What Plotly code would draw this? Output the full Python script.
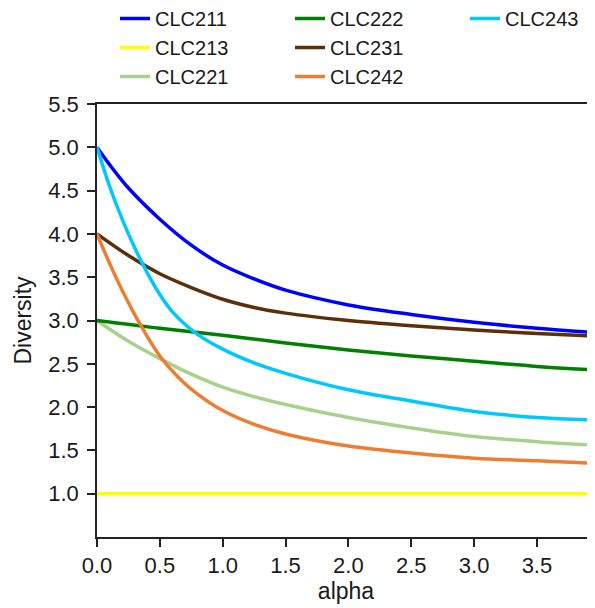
import plotly.graph_objects as go

# alpha sample points
alpha_211 = [0.0, 0.1, 0.25, 0.5, 0.75, 1.0, 1.25, 1.5, 2.0, 2.5, 3.0, 3.5, 3.96]
div_211 = [5.0, 4.80, 4.53, 4.17, 3.87, 3.64, 3.48, 3.35, 3.18, 3.07, 2.98, 2.91, 2.86]

alpha_213 = [0.0, 3.96]
div_213 = [1.0, 1.0]

alpha_221 = [0.0, 0.25, 0.5, 0.75, 1.0, 1.25, 1.5, 2.0, 2.5, 3.0, 3.5, 3.96]
div_221 = [3.0, 2.76, 2.56, 2.38, 2.23, 2.12, 2.03, 1.88, 1.76, 1.66, 1.60, 1.56]

alpha_222 = [0.0, 0.5, 1.0, 1.5, 2.0, 2.5, 3.0, 3.5, 3.96]
div_222 = [3.0, 2.91, 2.83, 2.74, 2.66, 2.59, 2.53, 2.47, 2.43]

alpha_231 = [0.0, 0.25, 0.5, 0.75, 1.0, 1.25, 1.5, 2.0, 2.5, 3.0, 3.5, 3.96]
div_231 = [4.0, 3.75, 3.54, 3.38, 3.245, 3.15, 3.085, 3.00, 2.94, 2.89, 2.85, 2.82]

alpha_242 = [0.0, 0.1, 0.2, 0.33, 0.5, 0.65, 0.8, 1.0, 1.25, 1.5, 2.0, 2.5, 3.0, 3.5, 3.96]
div_242 = [4.0, 3.66, 3.35, 2.99, 2.59, 2.34, 2.15, 1.96, 1.80, 1.69, 1.55, 1.47, 1.41, 1.38, 1.35]

alpha_243 = [0.0, 0.1, 0.2, 0.3, 0.4, 0.5, 0.6, 0.8, 1.0, 1.25, 1.5, 2.0, 2.5, 3.0, 3.5, 3.96]
div_243 = [5.0, 4.55, 4.17, 3.84, 3.55, 3.30, 3.10, 2.84, 2.67, 2.51, 2.39, 2.20, 2.07, 1.95, 1.88, 1.85]

names = ["CLC211", "CLC213", "CLC221", "CLC222", "CLC231", "CLC242", "CLC243"]
xs = [alpha_211, alpha_213, alpha_221, alpha_222, alpha_231, alpha_242, alpha_243]
ys = [div_211, div_213, div_221, div_222, div_231, div_242, div_243]
colors = ["#0000FF", "#FFFF00", "#A9D18E", "#007F00", "#5C2E0A", "#ED7D31", "#00C8FF"]
legend_ids = ["legend", "legend", "legend", "legend2", "legend2", "legend2", "legend3"]

x_ticks = [0.0, 0.5, 1.0, 1.5, 2.0, 2.5, 3.0, 3.5]
y_ticks = [1.0, 1.5, 2.0, 2.5, 3.0, 3.5, 4.0, 4.5, 5.0, 5.5]

FONT = "Liberation Sans, Arial, sans-serif"

fig = go.Figure()
for n, x, y, c, lg in zip(names, xs, ys, colors, legend_ids):
    fig.add_trace(go.Scatter(x=x, y=y, name=n, mode="lines",
                             line=dict(color=c, width=3.5, shape="spline", smoothing=1.0),
                             legend=lg))

leg_common = dict(yanchor="top", xanchor="left",
                  bgcolor="rgba(0,0,0,0)", font=dict(family=FONT, size=20, color="#1a1a1a"),
                  traceorder="normal", tracegroupgap=0, itemwidth=30)

# the page body adds an 8px offset; figure coords = page coords - 8
FW, FH = 587, 600
PL, PW, PT, PH = 89, 498, 96, 433


def px_x(p):
    return (p - PL) / PW


def px_y(p):
    return 1 - (p - PT) / PH


fig.update_layout(
    width=FW, height=FH,
    margin=dict(l=PL, r=FW - PL - PW, t=PT, b=FH - PT - PH, autoexpand=False),
    paper_bgcolor="white", plot_bgcolor="white",
    font=dict(family=FONT, size=22, color="#1a1a1a"),
    showlegend=True,
    legend=dict(x=px_x(107), y=px_y(-9), **leg_common),
    legend2=dict(x=px_x(282), y=px_y(-9), **leg_common),
    legend3=dict(x=px_x(457), y=px_y(-9), **leg_common),
    xaxis=dict(range=[0, 3.962], tickvals=x_ticks, tickformat=".1f",
               showline=True, linecolor="#222", linewidth=1.5, mirror=True,
               ticks="outside", ticklen=8, tickwidth=1.5, tickcolor="#222",
               showgrid=False, zeroline=False, automargin=False,
               title=dict(text="alpha", font=dict(size=23), standoff=6),
               tickfont=dict(size=22)),
    yaxis=dict(range=[0.5, 5.5], tickvals=y_ticks, tickformat=".1f",
               showline=True, linecolor="#222", linewidth=1.5,
               ticks="outside", ticklen=8, tickwidth=1.5, tickcolor="#222",
               showgrid=False, zeroline=False, automargin=False,
               ticklabelstandoff=4,
               title=dict(text="Diversity", font=dict(size=23), standoff=10),
               tickfont=dict(size=22)),
)

fig.write_html("out.html")
